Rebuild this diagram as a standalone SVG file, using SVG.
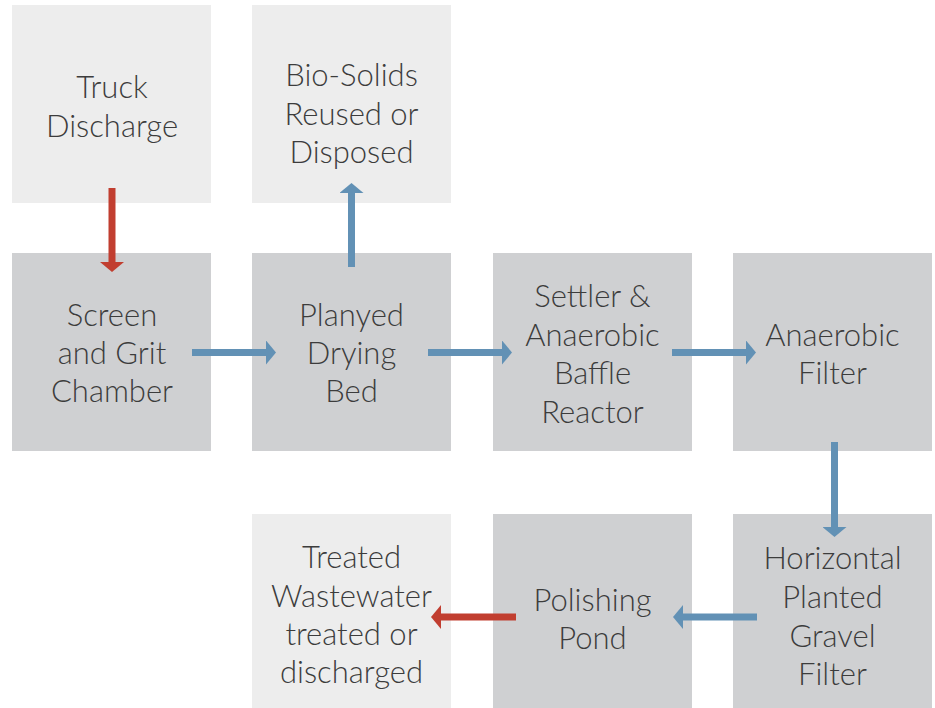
<svg xmlns="http://www.w3.org/2000/svg" width="935" height="708" viewBox="0 0 935 708">
<defs>
<style>
.light{fill:#ededed}
.dark{fill:#cfd0d2}
.lbl{font-family:Lato,"Liberation Sans",sans-serif;font-weight:300;font-size:31px;fill:#3c3c3c;text-anchor:middle}
.blue{stroke:#6291b5;stroke-width:7;fill:none}
.red{stroke:#c13e30;stroke-width:7;fill:none}
</style>
<marker id="hb" markerUnits="userSpaceOnUse" viewBox="0 0 10 24" markerWidth="10" markerHeight="24" refX="0" refY="12" orient="auto"><path d="M0,0 L10,12 L0,24 Z" fill="#6291b5"/></marker>
<marker id="hr" markerUnits="userSpaceOnUse" viewBox="0 0 10 24" markerWidth="10" markerHeight="24" refX="0" refY="12" orient="auto"><path d="M0,0 L10,12 L0,24 Z" fill="#c13e30"/></marker>
</defs>
<rect width="935" height="708" fill="#ffffff"/>
<g id="truck"><rect class="light" x="12" y="5" width="199" height="198"/><text class="lbl" x="112"><tspan x="112" y="98">Truck</tspan><tspan x="112" y="137">Discharge</tspan></text></g>
<g id="biosolids"><rect class="light" x="252" y="5" width="199" height="198"/><text class="lbl"><tspan x="351.5" y="86">Bio-Solids</tspan><tspan x="351.5" y="125">Reused or</tspan><tspan x="351.5" y="163">Disposed</tspan></text></g>
<g id="screen"><rect class="dark" x="12" y="253" width="199" height="198"/><text class="lbl"><tspan x="112" y="326">Screen</tspan><tspan x="112" y="364">and Grit</tspan><tspan x="112" y="402">Chamber</tspan></text></g>
<g id="drying"><rect class="dark" x="252" y="253" width="199" height="198"/><text class="lbl"><tspan x="351.5" y="326">Planyed</tspan><tspan x="351.5" y="364">Drying</tspan><tspan x="351.5" y="402">Bed</tspan></text></g>
<g id="settler"><rect class="dark" x="493" y="253" width="199" height="198"/><text class="lbl"><tspan x="592.5" y="307">Settler &amp;</tspan><tspan x="592.5" y="346">Anaerobic</tspan><tspan x="592.5" y="384">Baffle</tspan><tspan x="592.5" y="423">Reactor</tspan></text></g>
<g id="anfilter"><rect class="dark" x="733" y="253" width="199" height="198"/><text class="lbl"><tspan x="832.5" y="346">Anaerobic</tspan><tspan x="832.5" y="384">Filter</tspan></text></g>
<g id="treated"><rect class="light" x="252" y="514" width="199" height="194"/><text class="lbl"><tspan x="351.5" y="568">Treated</tspan><tspan x="351.5" y="607">Wastewater</tspan><tspan x="351.5" y="645">treated or</tspan><tspan x="351.5" y="683">discharged</tspan></text></g>
<g id="polishing"><rect class="dark" x="493" y="514" width="199" height="194"/><text class="lbl"><tspan x="592.5" y="611">Polishing</tspan><tspan x="592.5" y="649">Pond</tspan></text></g>
<g id="horizontal"><rect class="dark" x="733" y="514" width="199" height="194"/><text class="lbl"><tspan x="832.5" y="569">Horizontal</tspan><tspan x="832.5" y="608">Planted</tspan><tspan x="832.5" y="647">Gravel</tspan><tspan x="832.5" y="685">Filter</tspan></text></g>
<g id="connectors">
<line class="red" x1="112" y1="188" x2="112" y2="262" marker-end="url(#hr)"/>
<line class="blue" x1="351.5" y1="267" x2="351.5" y2="193" marker-end="url(#hb)"/>
<line class="blue" x1="192" y1="352.5" x2="266" y2="352.5" marker-end="url(#hb)"/>
<line class="blue" x1="428" y1="352.5" x2="502" y2="352.5" marker-end="url(#hb)"/>
<line class="blue" x1="672" y1="352.5" x2="746" y2="352.5" marker-end="url(#hb)"/>
<line class="blue" x1="834.5" y1="442" x2="834.5" y2="527" marker-end="url(#hb)"/>
<line class="blue" x1="757" y1="617" x2="683" y2="617" marker-end="url(#hb)"/>
<line class="red" x1="516" y1="617" x2="441" y2="617" marker-end="url(#hr)"/>
</g>
</svg>
